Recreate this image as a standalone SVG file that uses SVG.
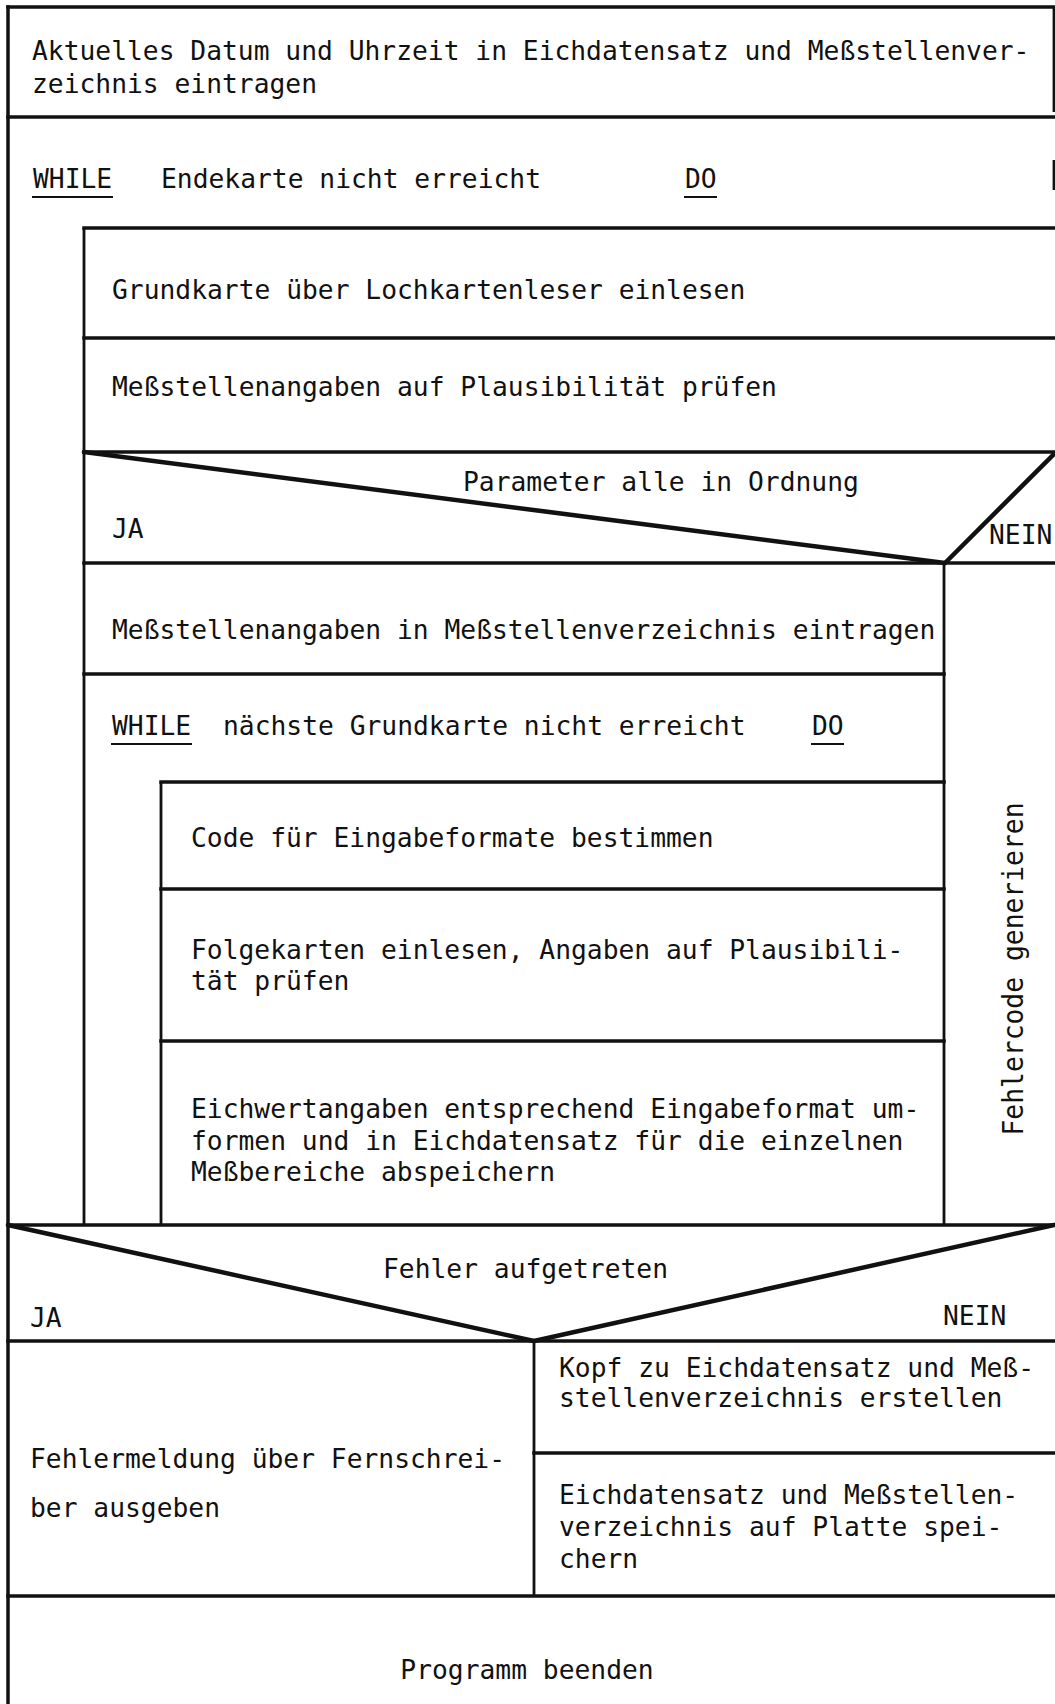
<svg xmlns="http://www.w3.org/2000/svg" width="1055" height="1704" viewBox="0 0 1055 1704">
  <style>
    .t { font-family: "DejaVu Sans Mono", "Liberation Mono", monospace; font-size: 26.3px; fill: #111; }
    .ln { stroke: #111; stroke-width: 3.5; fill: none; stroke-linecap: square; }
    .thin { stroke: #111; stroke-width: 2.8; fill: none; }
    .diag { stroke: #111; stroke-width: 4.5; fill: none; stroke-linecap: round; }
    .ul { stroke: #111; stroke-width: 2; }
  </style>
  <rect width="1055" height="1704" fill="#fff"/>

  <!-- frame and block separators -->
  <g id="connectors">
    <!-- outer frame -->
    <line class="ln" x1="8" y1="7" x2="1055" y2="7"/>
    <line class="ln" x1="8" y1="7" x2="8" y2="1704"/>
    <line class="thin" x1="1054" y1="7" x2="1054" y2="112"/>
    <line class="thin" x1="1054" y1="160" x2="1054" y2="190"/>
    <line class="ln" x1="8" y1="117" x2="1055" y2="117"/>

    <!-- outer WHILE body -->
    <line class="ln" x1="84" y1="228" x2="1055" y2="228"/>
    <line class="thin" x1="84" y1="228" x2="84" y2="1225"/>
    <line class="ln" x1="84" y1="338" x2="1055" y2="338"/>
    <line class="ln" x1="84" y1="452" x2="1055" y2="452"/>

    <!-- decision: Parameter alle in Ordnung -->
    <line class="diag" x1="84" y1="452" x2="945" y2="563"/>
    <line class="diag" x1="945" y1="563" x2="1054" y2="454"/>
    <line class="ln" x1="84" y1="563" x2="1055" y2="563"/>
    <line class="thin" x1="944" y1="563" x2="944" y2="1225"/>

    <line class="ln" x1="84" y1="674" x2="944" y2="674"/>

    <!-- inner WHILE body -->
    <line class="ln" x1="161" y1="782" x2="944" y2="782"/>
    <line class="thin" x1="161" y1="782" x2="161" y2="1225"/>
    <line class="ln" x1="161" y1="889" x2="944" y2="889"/>
    <line class="ln" x1="161" y1="1041" x2="944" y2="1041"/>

    <!-- decision: Fehler aufgetreten -->
    <line class="ln" x1="8" y1="1225" x2="1055" y2="1225"/>
    <line class="diag" x1="8" y1="1225" x2="534" y2="1341"/>
    <line class="diag" x1="534" y1="1341" x2="1054" y2="1225"/>
    <line class="ln" x1="8" y1="1341" x2="1055" y2="1341"/>
    <line class="thin" x1="534" y1="1341" x2="534" y2="1596"/>
    <line class="ln" x1="534" y1="1453" x2="1055" y2="1453"/>
    <line class="ln" x1="8" y1="1596" x2="1055" y2="1596"/>
  </g>

  <g id="datum">
    <text class="t" x="32" y="60">Aktuelles Datum und Uhrzeit in Eichdatensatz und Meßstellenver-</text>
    <text class="t" x="32" y="93">zeichnis eintragen</text>
  </g>

  <g id="while-endekarte">
    <text class="t" x="33" y="188">WHILE</text>
    <line class="ul" x1="32" y1="197" x2="113" y2="197"/>
    <text class="t" x="161" y="188">Endekarte nicht erreicht</text>
    <text class="t" x="685" y="188">DO</text>
    <line class="ul" x1="684" y1="197" x2="717" y2="197"/>
  </g>

  <g id="grundkarte">
    <text class="t" x="112" y="299">Grundkarte über Lochkartenleser einlesen</text>
  </g>

  <g id="plausibel">
    <text class="t" x="112" y="396">Meßstellenangaben auf Plausibilität prüfen</text>
  </g>

  <g id="parameter-ok">
    <text class="t" x="463" y="491">Parameter alle in Ordnung</text>
    <text class="t" x="112" y="538">JA</text>
    <text class="t" x="989" y="544">NEIN</text>
  </g>

  <g id="eintragen">
    <text class="t" x="112" y="639">Meßstellenangaben in Meßstellenverzeichnis eintragen</text>
  </g>

  <g id="while-grundkarte">
    <text class="t" x="112" y="735">WHILE</text>
    <line class="ul" x1="111" y1="744" x2="192" y2="744"/>
    <text class="t" x="223" y="735">nächste Grundkarte nicht erreicht</text>
    <text class="t" x="812" y="735">DO</text>
    <line class="ul" x1="811" y1="744" x2="844" y2="744"/>
  </g>

  <g id="code">
    <text class="t" x="191" y="847">Code für Eingabeformate bestimmen</text>
  </g>

  <g id="folgekarten">
    <text class="t" x="191" y="959">Folgekarten einlesen, Angaben auf Plausibili-</text>
    <text class="t" x="191" y="990">tät prüfen</text>
  </g>

  <g id="eichwerte">
    <text class="t" x="191" y="1118">Eichwertangaben entsprechend Eingabeformat um-</text>
    <text class="t" x="191" y="1150">formen und in Eichdatensatz für die einzelnen</text>
    <text class="t" x="191" y="1181">Meßbereiche abspeichern</text>
  </g>

  <g id="fehlercode">
    <text class="t" x="1023" y="969" text-anchor="middle" style="font-size:27.5px" textLength="333" lengthAdjust="spacingAndGlyphs" transform="rotate(-90 1023 969)">Fehlercode generieren</text>
  </g>

  <g id="fehler-aufgetreten">
    <text class="t" x="383" y="1278">Fehler aufgetreten</text>
    <text class="t" x="30" y="1327">JA</text>
    <text class="t" x="943" y="1325">NEIN</text>
  </g>

  <g id="fehlermeldung">
    <text class="t" x="30" y="1468">Fehlermeldung über Fernschrei-</text>
    <text class="t" x="30" y="1517">ber ausgeben</text>
  </g>

  <g id="kopf">
    <text class="t" x="559" y="1377">Kopf zu Eichdatensatz und Meß-</text>
    <text class="t" x="559" y="1407">stellenverzeichnis erstellen</text>
  </g>

  <g id="speichern">
    <text class="t" x="559" y="1504">Eichdatensatz und Meßstellen-</text>
    <text class="t" x="559" y="1536">verzeichnis auf Platte spei-</text>
    <text class="t" x="559" y="1568">chern</text>
  </g>

  <g id="beenden">
    <text class="t" x="527" y="1679" text-anchor="middle">Programm beenden</text>
  </g>
</svg>
